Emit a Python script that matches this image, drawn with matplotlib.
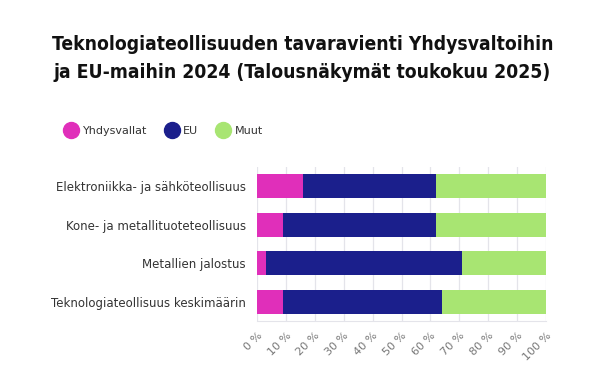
import numpy as np
import matplotlib.pyplot as plt
from matplotlib.lines import Line2D

# Data (osuudet %, luettu kuvasta)
toimialat = ["Elektroniikka- ja sähköteollisuus",
             "Kone- ja metallituoteteollisuus",
             "Metallien jalostus",
             "Teknologiateollisuus keskimäärin"]
yhdysvallat = [16, 9, 3, 9]
eu = [46, 53, 68, 55]
muut = [38, 38, 29, 36]
sarjat = ["Yhdysvallat", "EU", "Muut"]
varit = ["#e02fba", "#1b1f8c", "#a8e572"]
xticks = np.arange(0, 101, 10)

fig = plt.figure(figsize=(6.05, 3.85), dpi=100, facecolor='white')
ax = fig.add_axes([0.4248, 0.1662, 0.4777, 0.400])
ax.set_axisbelow(True)

y = np.arange(len(toimialat))
left = np.zeros(len(toimialat))
for vals, col in zip([yhdysvallat, eu, muut], varit):
    ax.barh(y, vals, left=left, height=0.63, color=col, zorder=3)
    left += np.array(vals)

ax.set_xlim(0, 100)
ax.set_ylim(len(toimialat) - 0.5, -0.5)
ax.set_yticks(y)
ax.set_yticklabels(toimialat, fontsize=8.5, color='#333333')
ax.set_xticks(xticks)
ax.set_xticklabels([f"{v} %" for v in xticks], rotation=45, ha='right',
                   rotation_mode='anchor', fontsize=8, color='#777777')
ax.tick_params(axis='y', length=0, pad=8)
ax.tick_params(axis='x', length=0, pad=7)
ax.grid(axis='x', color='#e4e4ea', linewidth=0.9)
for s in ax.spines.values():
    s.set_visible(False)
ax.spines['bottom'].set_visible(True)
ax.spines['bottom'].set_color('#e4e4ea')

# Otsikko
fig.text(0.5, 1 - 45 / 385, "Teknologiateollisuuden tavaravienti Yhdysvaltoihin",
         ha='center', va='center', fontsize=13.9, fontweight='bold',
         fontstretch='condensed', color='#111111')
fig.text(0.5, 1 - 72 / 385, "ja EU-maihin 2024 (Talousnäkymät toukokuu 2025)",
         ha='center', va='center', fontsize=13.9, fontweight='bold',
         fontstretch='condensed', color='#111111')

# Selite
handles = [Line2D([], [], marker='o', linestyle='none', markersize=11.5,
                  markerfacecolor=c, markeredgecolor=c) for c in varit]
fig.legend(handles, sarjat, loc='center left',
           bbox_to_anchor=(50 / 605, 1 - 131 / 385), ncol=3, frameon=False,
           fontsize=8, handletextpad=0.05, columnspacing=1.2,
           labelcolor='#333333')

plt.savefig("out.png", dpi=100, facecolor='white')
